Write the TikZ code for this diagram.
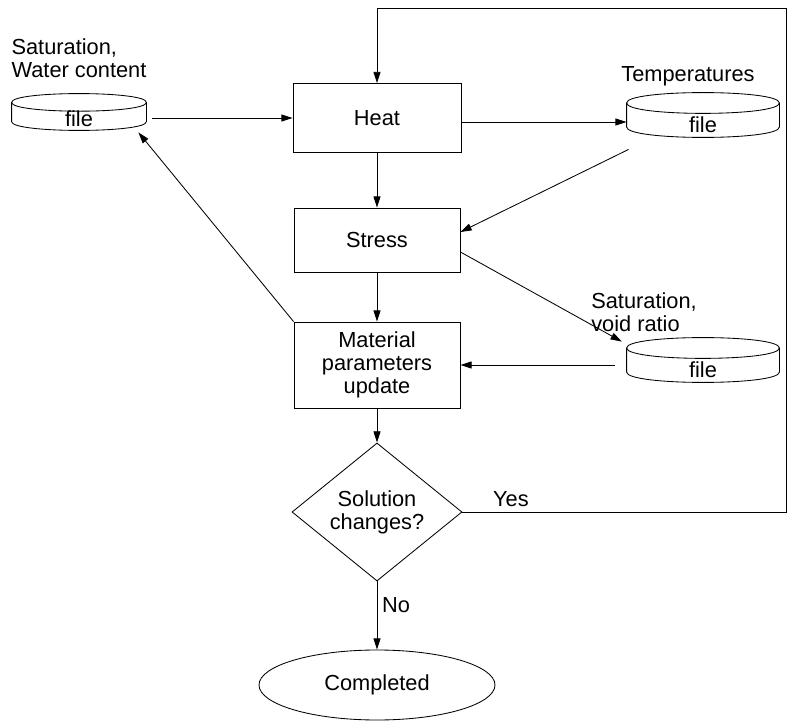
\documentclass[tikz,border=0pt]{standalone}
\usepackage{fontspec}
\setmainfont{Liberation Sans}
\usetikzlibrary{shapes.geometric, arrows.meta, positioning}

\begin{document}
\begin{tikzpicture}[>={Triangle[length=8pt,width=5pt]}, line width=0.6pt,
  every node/.style={font=\fontsize{15.5}{16.5}\selectfont},
  process/.style={rectangle, draw, minimum width=4.15cm, minimum height=1.6cm},
  store/.style={rectangle, inner ysep=0pt, text height=25pt, text depth=0pt, minimum width=3.8cm, minimum height=1.1cm},
  decision/.style={diamond, draw, inner sep=0pt, minimum width=4.25cm, minimum height=3.25cm},
  finish/.style={ellipse, draw, minimum width=5.9cm, minimum height=1.75cm},
  tag/.style={align=left, inner sep=1pt}
]
\useasboundingbox (0,0) rectangle (19.675,-18.1);
% Tarefas
\node[process, minimum width=4.2cm, minimum height=1.725cm] (heat) at (9.425,-2.95) {Heat};
\node[process] (stress) at (9.425,-6.0) {Stress};
\node[process, minimum height=2.15cm, align=center] (material) at (9.425,-9.125) {Material\\parameters\\update};
\node[decision, align=center] (check) at (9.425,-12.8) {Solution\\changes?};
\node[finish] (done) at (9.425,-17.125) {Completed};
% Arquivos (cilindros)
\node[store, minimum width=3.35cm, minimum height=0.9cm, text height=21pt] (satfile) at (1.975,-2.8) {file};
\node[store] (tempfile) at (17.575,-2.875) {file};
\node[store] (voidfile) at (17.575,-9.0) {file};
\foreach \f/\r in {satfile/0.22cm, tempfile/0.26cm, voidfile/0.26cm} {
  \draw ([yshift=-\r]\f.north west) .. controls ([yshift=\r/3]\f.north west) and ([yshift=\r/3]\f.north east) .. ([yshift=-\r]\f.north east)
    .. controls ([yshift=-\r*7/3]\f.north east) and ([yshift=-\r*7/3]\f.north west) .. cycle;
  \draw ([yshift=-\r]\f.north west) -- ([yshift=\r]\f.south west)
    .. controls ([yshift=-\r/3]\f.south west) and ([yshift=-\r/3]\f.south east) .. ([yshift=\r]\f.south east)
    -- ([yshift=-\r]\f.north east);
}
% Rotulos
\node[tag, above=0.35cm of satfile] (satlbl) {Saturation,\\Water content};
\node[tag] (templbl) at (17.2,-1.9) {Temperatures};
\node[tag] (voidlbl) at (16.1,-7.8) {Saturation,\\void ratio};
% Fluxos
\draw[->] ([xshift=4pt]satfile.east |- heat.west) -- (heat.west);
\draw[->] ([yshift=-0.1cm]heat.east) -- ([yshift=-0.1cm]heat.east -| tempfile.west);
\draw[->] ([shift={(0.05,-0.3)}]tempfile.south west) -- ([yshift=0.2cm]stress.east);
\draw[->] (heat) -- (stress);
\draw[->] ([yshift=-0.3cm]stress.east) -- ([shift={(-0.12,-0.1)}]voidfile.north west);
\draw[->] (stress) -- (material);
\draw[->] ([xshift=-0.3cm]voidfile.west |- material.east) -- (material.east);
\draw[->] (material.north west) -- ([shift={(-0.2,-0.05)}]satfile.south east);
\draw[->] (material) -- (check);
\draw[->] (check) -- node[right, pos=0.35]{No} (done);
% Retorno
\coordinate (loopr) at (19.65,-12.8);
\coordinate (loopt) at (19.65,-0.2);
\draw[->] (check.east) -- node[above, pos=0.15]{Yes} (loopr) -- (loopt) -- (loopt -| heat.north) -- (heat.north);
\end{tikzpicture}
\end{document}
